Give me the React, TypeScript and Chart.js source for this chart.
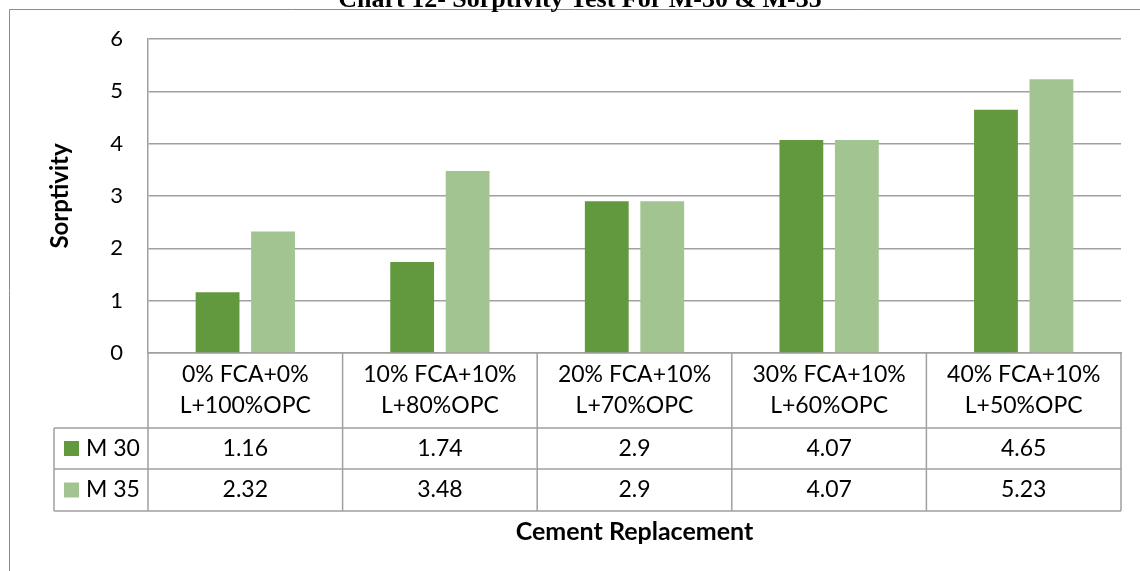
import React, { useEffect, useRef } from "react";
import { Chart, registerables } from "chart.js";

Chart.register(...registerables);

const categories: string[][] = [
  ["0% FCA+0%", "L+100%OPC"],
  ["10% FCA+10%", "L+80%OPC"],
  ["20% FCA+10%", "L+70%OPC"],
  ["30% FCA+10%", "L+60%OPC"],
  ["40% FCA+10%", "L+50%OPC"],
];
const seriesNames = ["M 30", "M 35"];
const m30Values = [1.16, 1.74, 2.9, 4.07, 4.65];
const m35Values = [2.32, 3.48, 2.9, 4.07, 5.23];
const seriesColors = ["#62993e", "#a2c490"];
const chartTitle = "Chart 12- Sorptivity Test For M-30 & M-35";
const yAxisTitle = "Sorptivity";
const xAxisTitle = "Cement Replacement";

const FONT = "Lato, 'Noto Sans', sans-serif";
const GRID = "#a0a0a0";

const tablePlugin = {
  id: "dataTable",
  afterDraw(chart: any) {
    const ctx = chart.ctx as CanvasRenderingContext2D;
    const x = chart.scales.x;
    const area = chart.chartArea;
    const n = categories.length;
    const colW = (x.right - x.left) / n;
    const top = area.bottom;
    const headBottom = top + 75;
    const row1Bottom = headBottom + 41;
    const row2Bottom = row1Bottom + 42;
    const legendLeft = 54;

    ctx.save();
    // frame
    ctx.strokeStyle = "#8c8c8c";
    ctx.lineWidth = 1;
    ctx.beginPath();
    ctx.moveTo(9.5, 572);
    ctx.lineTo(9.5, 9.5);
    ctx.lineTo(1141, 9.5);
    ctx.stroke();

    // chart title
    ctx.fillStyle = "#000";
    ctx.font = "bold 26px 'Liberation Serif', 'Times New Roman', serif";
    ctx.textAlign = "center";
    ctx.textBaseline = "alphabetic";
    ctx.fillText(chartTitle, 580, 7);

    // table lines
    ctx.strokeStyle = GRID;
    ctx.lineWidth = 1.5;
    ctx.beginPath();
    for (let i = 0; i <= n; i++) {
      const bx = x.left + i * colW;
      ctx.moveTo(bx, top);
      ctx.lineTo(bx, row2Bottom);
    }
    for (const yy of [headBottom, row1Bottom, row2Bottom]) {
      ctx.moveTo(legendLeft, yy);
      ctx.lineTo(x.right, yy);
    }
    ctx.moveTo(legendLeft, headBottom);
    ctx.lineTo(legendLeft, row2Bottom);
    ctx.stroke();

    // header text
    ctx.fillStyle = "#000";
    ctx.font = `23px ${FONT}`;
    ctx.textAlign = "center";
    ctx.textBaseline = "middle";
    categories.forEach((lines, i) => {
      const cx = x.getPixelForValue(i);
      ctx.fillText(lines[0], cx, top + 22);
      ctx.fillText(lines[1], cx, top + 53);
    });

    // rows
    const rows = [m30Values, m35Values];
    const rowCenters = [(headBottom + row1Bottom) / 2, (row1Bottom + row2Bottom) / 2];
    rows.forEach((vals, r) => {
      const cy = rowCenters[r];
      ctx.fillStyle = seriesColors[r];
      ctx.fillRect(64, cy - 7.5, 15, 15);
      ctx.fillStyle = "#000";
      ctx.textAlign = "left";
      ctx.fillText(seriesNames[r], 86, cy);
      ctx.textAlign = "center";
      vals.forEach((v, i) => {
        ctx.fillText(String(v), x.getPixelForValue(i), cy);
      });
    });

    // x axis title
    ctx.font = `bold 25px ${FONT}`;
    ctx.fillText(xAxisTitle, (x.left + x.right) / 2, 532);
    ctx.restore();
  },
};

export default function App() {
  const ref = useRef<HTMLCanvasElement | null>(null);
  useEffect(() => {
    document.body.style.margin = "0";
    const canvas = ref.current;
    if (!canvas) return;
    const chart = new Chart(canvas, {
      type: "bar",
      data: {
        labels: categories.map((c) => c.join(" ")),
        datasets: [
          {
            label: seriesNames[0],
            data: m30Values,
            backgroundColor: seriesColors[0],
            categoryPercentage: 0.57,
            barPercentage: 0.79,
          },
          {
            label: seriesNames[1],
            data: m35Values,
            backgroundColor: seriesColors[1],
            categoryPercentage: 0.57,
            barPercentage: 0.79,
          },
        ],
      },
      options: {
        animation: false,
        responsive: true,
        maintainAspectRatio: false,
        layout: { padding: { top: 39, bottom: 218, left: 42, right: 19 } },
        plugins: {
          legend: { display: false },
          tooltip: { enabled: false },
          title: { display: false },
        },
        scales: {
          x: {
            grid: { display: false },
            ticks: { display: false },
            border: { display: true, color: GRID, width: 1.5 },
            afterFit: (s: any) => {
              s.height = 0;
            },
          },
          y: {
            min: 0,
            max: 6,
            ticks: {
              stepSize: 1,
              padding: 25,
              color: "#000",
              font: { family: FONT, size: 22 },
            },
            grid: { color: GRID, lineWidth: 1.5, drawTicks: false },
            border: { display: true, color: GRID, width: 1.5 },
            title: {
              display: true,
              text: yAxisTitle,
              color: "#000",
              font: { family: FONT, size: 24, weight: "bold" },
            },
            afterFit: (s: any) => {
              s.width = 106;
            },
          },
        },
      },
      plugins: [tablePlugin],
    });
    return () => chart.destroy();
  }, []);
  return (
    <div style={{ position: "absolute", left: 0, top: 0, width: 1140, height: 571, background: "#fff" }}>
      <canvas ref={ref} />
    </div>
  );
}
